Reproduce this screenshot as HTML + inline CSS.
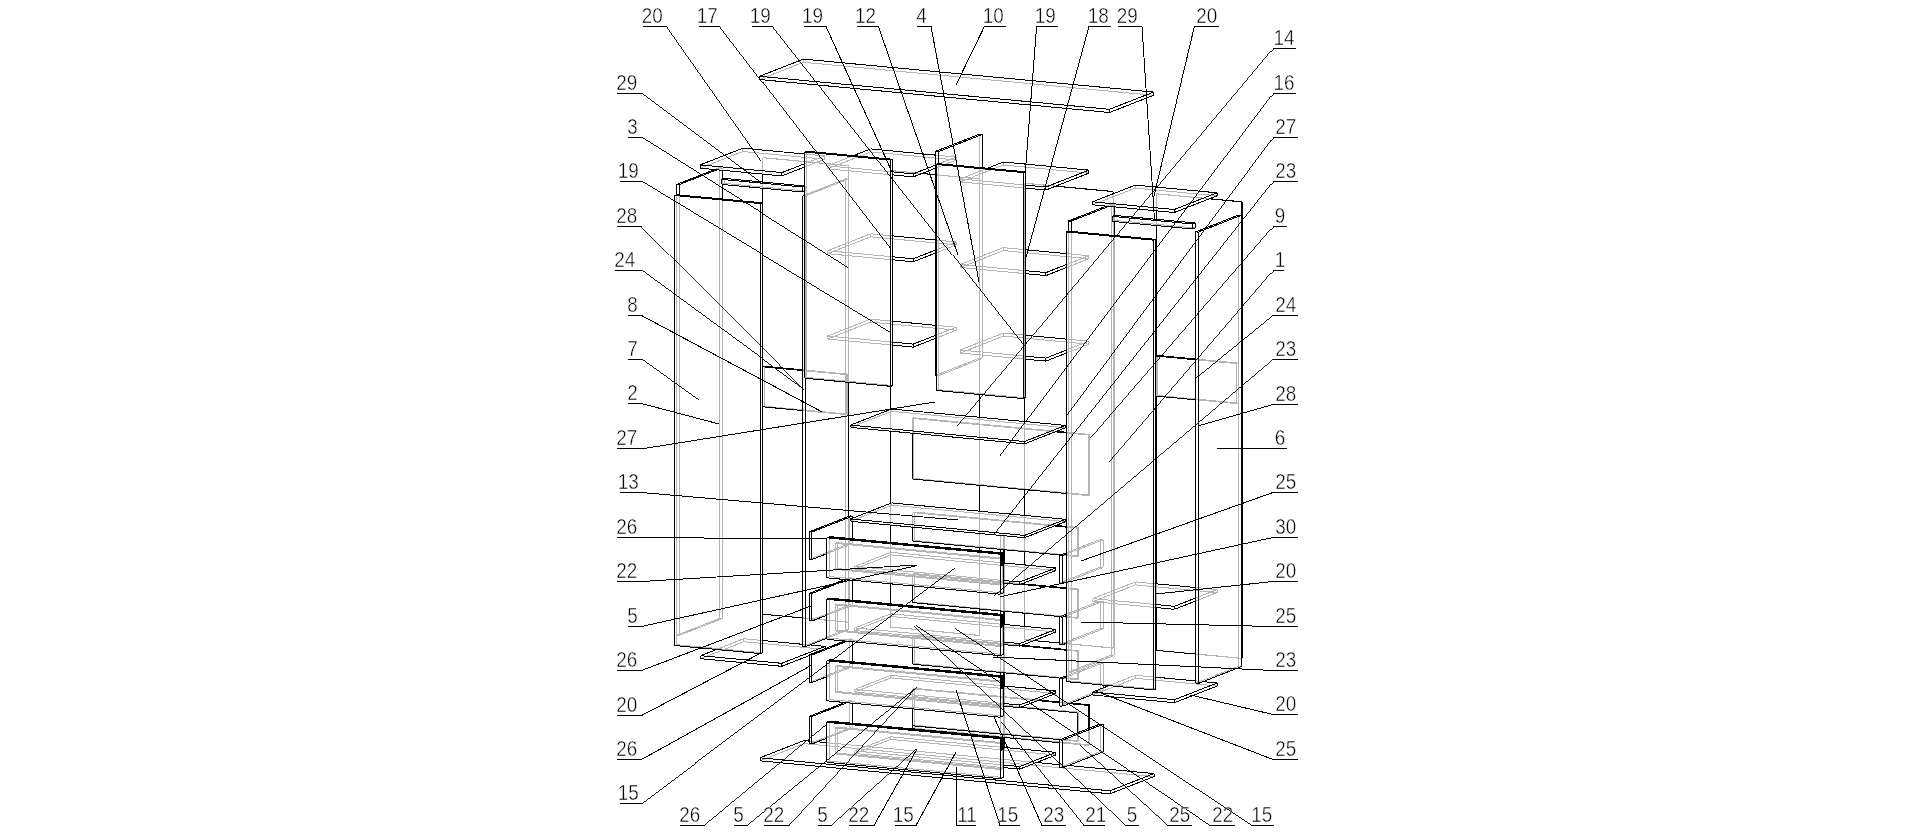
<!DOCTYPE html>
<html><head><meta charset="utf-8"><title>Exploded view</title>
<style>
html,body{margin:0;padding:0;background:#fff}
body{width:1915px;height:834px;overflow:hidden}
svg{display:block;filter:grayscale(1)}
path{shape-rendering:crispEdges;fill:none}
.g{stroke:#b4b4b4}
.d{stroke:#000}
text{font-family:"Liberation Sans",sans-serif;font-size:22.5px;fill:#000;stroke:#fff;stroke-width:0.45px}
</style></head><body>
<svg width="1915" height="834" viewBox="0 0 1915 834">
<rect width="1915" height="834" fill="#fff"/>
<path class="g" stroke-width="1" d="M803.5 62.3L1153.5 95.3M759.5 79.5L803.5 62.3M803.5 62.3L803.5 59.1M804 743.6L1154 776.6M809.6 741.1L817.5 741.8M826.7 742.7L1036.5 762.5M1059.6 764.7L1068.4 765.5M760 760.8L804 743.6M804 743.6L804 740.6M742.9 151.5L824.6 159.2M804.8 154L824.6 155.9M700.2 168.2L742.9 151.5M804.9 166.9L824.6 159.2M804.9 163.6L824.6 155.9M742.9 151.5L742.9 148.2M824.6 159.2L824.6 155.9M743.9 641.7L825 649.4M743.9 638.7L762.2 640.5M802.7 644.3L809.9 644.9M700.6 658.7L743.9 641.7M716.5 649.5L743.9 638.7M809.5 655.5L825 649.4M743.9 641.7L743.9 638.7M825 649.4L825 648.6M676.4 644.7L762.4 652.8M674.4 645.5L676.4 644.7M676.4 644.7L676.4 194.7M676.8 635.2L679.2 635.4M719.8 618.3L722.2 618.6M719.8 167.5L722.2 167.8M676.8 635.2L719.8 618.3M714.6 169.6L719.8 167.5M679.2 635.4L722.2 618.6M717 169.8L722.2 167.8M676.8 635.2L676.8 194.8M719.8 618.3L719.8 167.5M679.2 635.4L679.2 195M722.2 618.6L722.2 199M722.2 184.6L722.2 179.4M722.2 170.2L722.2 167.8M804.7 196L805.1 196M845.8 629.7L848.1 630M845.8 178.9L848.1 179.2M802.8 646.6L845.8 629.7M804.7 195.1L845.8 178.9M827 638.2L848.1 630M805.1 196L848.1 179.2M845.8 629.7L845.8 178.9M805.1 378L805.1 196M848.1 630L848.1 516.8M848.1 382.4L848.1 179.2M724.2 183.4L805.2 191M804.8 186L805.2 186M721.7 184.4L724.2 183.4M804.8 191.2L805.2 191M804.8 186.2L805.2 186M724.2 183.4L724.2 178.4M805.2 191L805.2 186M802.8 618L848.6 622.3M762.6 157.7L848.6 165.8M762.9 614.1L848.9 622.2M762.9 157.6L848.9 165.7M762.6 614.2L762.9 614.1M762.6 157.7L762.9 157.6M848.6 622.3L848.9 622.2M848.6 165.8L848.9 165.7M762.6 188.1L762.6 182.1M762.6 174.1L762.6 157.7M762.9 614.1L762.9 157.6M848.6 622.3L848.6 516.4M848.6 382.5L848.6 165.8M848.9 622.2L848.9 516.3M848.9 382.3L848.9 165.7M803 410.6L846 414.6M803 370.6L846 374.6M764.3 406.2L847.5 414.1M802.9 369.9L847.5 374.1M762.8 406.8L764.3 406.2M846 414.6L847.5 414.1M846 374.6L847.5 374.1M764.3 406.2L764.3 366.2M846 414.6L846 374.6M847.5 414.1L847.5 374.1M806.7 377.4L892.7 385.5M804.7 378.2L806.7 377.4M806.7 377.4L806.7 151.2M936.1 375.5L938.4 375.7M979.4 358.2L982.4 358.4M935.4 375.4L979.4 358.2M938.4 375.7L982.4 358.4M979.4 358.2L979.4 134.2M938.4 375.7L938.4 163.7M982.4 358.4L982.4 167.6M938 389.6L1025 397.8M936 390.4L938 389.6M938 389.6L938 163.6M827.6 168.8L892.5 174.9M827.6 165.8L892.5 171.9M870.6 151.9L956.2 160M935.5 155.1L956.2 157M827.6 168.8L870.6 151.9M827.6 165.8L853.5 155.6M935.4 168.2L956.2 160M935.4 165.2L956.2 157M827.6 168.8L827.6 165.8M870.6 151.9L870.6 148.9M956.2 160L956.2 157M827.6 253.7L892.5 259.8M827.6 250.7L892.5 256.8M870.6 236.8L956.2 244.9M870.6 233.8L892.5 235.9M935.5 240L956.2 241.9M827.6 253.7L870.6 236.8M827.6 250.7L870.6 233.8M935.4 253.1L956.2 244.9M935.4 250.1L956.2 241.9M827.6 253.7L827.6 250.7M870.6 236.8L870.6 233.8M956.2 244.9L956.2 241.9M827.6 339L892.5 345.1M827.6 336L892.5 342.1M870.6 322.1L956.2 330.2M870.6 319.1L892.5 321.2M935.5 325.3L956.2 327.2M827.6 339L870.6 322.1M827.6 336L870.6 319.1M935.4 338.4L956.2 330.2M935.4 335.4L956.2 327.2M827.6 339L827.6 336M870.6 322.1L870.6 319.1M956.2 330.2L956.2 327.2M960.3 181.9L1024.8 188M960.3 178.9L1024.8 185M1003.3 165L1088.9 173.1M960.3 181.9L1003.3 165M960.3 178.9L987.4 168.3M960.3 181.9L960.3 178.9M1003.3 165L1003.3 162M960.3 267.5L1024.8 273.6M960.3 264.5L1024.8 270.6M1003.3 250.6L1088.9 258.7M1003.3 247.6L1024.8 249.7M1066.2 253.6L1088.9 255.7M960.3 267.5L1003.3 250.6M960.3 264.5L1003.3 247.6M1066.3 267.6L1088.9 258.7M1066.3 264.6L1088.9 255.7M960.3 267.5L960.3 264.5M1003.3 250.6L1003.3 247.6M1088.9 258.7L1088.9 255.7M960.3 353L1024.8 359.1M960.3 350L1024.8 356.1M1003.3 336.1L1088.9 344.2M1003.3 333.1L1024.8 335.2M1066.2 339.1L1088.9 341.2M960.3 353L1003.3 336.1M960.3 350L1003.3 333.1M1066.3 353.1L1088.9 344.2M1066.3 350.1L1088.9 341.2M960.3 353L960.3 350M1003.3 336.1L1003.3 333.1M1088.9 344.2L1088.9 341.2M890.5 627.1L979.4 635.5M890.5 170.6L921.5 173.5M935.3 174.8L979.4 179M890.8 627L979.7 635.4M890.8 170.5L921.8 173.4M935.2 174.7L979.7 178.9M890.5 627.1L890.8 627M890.5 170.6L890.8 170.5M979.4 635.5L979.7 635.4M979.4 179L979.7 178.9M890.5 627.1L890.5 603.9M890.5 583.9L890.5 542.4M890.5 525.2L890.5 503.2M890.5 431.2L890.5 409.7M890.5 386.1L890.5 170.6M890.8 627L890.8 170.5M979.4 635.5L979.4 612.3M979.4 608.7L979.4 550.8M979.4 547.6L979.4 511.2M979.4 485.2L979.4 417.2M979.4 394.5L979.4 179M979.7 635.4L979.7 612.2M979.7 609L979.7 550.6M979.7 547.4L979.7 511.5M979.7 485.5L979.7 417.5M979.7 394.3L979.7 178.9M1024.5 639.8L1033.6 640.6M1059.4 643L1065.4 643.6M1066.2 643.7L1113 648.1M1024.5 183.3L1055.5 186.2M1024.8 639.6L1113.3 648M1024.8 183.1L1055.8 186.1M1024.5 639.8L1024.8 639.6M1024.5 183.3L1024.8 183.1M1113 648.1L1113.3 648M1024.5 639.8L1024.5 626.6M1024.5 613L1024.5 584.2M1024.5 582.6L1024.5 565M1024.5 551.8L1024.5 515.4M1024.5 489.5L1024.5 421.5M1024.5 397.9L1024.5 183.3M1024.8 639.6L1024.8 183.1M1113 648.1L1113 194M1113.3 648L1113.3 193.9M891.6 411.3L1065.6 427.7M850.6 427.4L891.6 411.3M891.6 411.3L891.6 409M1066.1 493.5L1088 495.6M912.4 418.4L1055 431.8M1066.1 432.9L1088 435M913.9 478.4L1089.5 495M913.9 417.8L1056.5 431.3M1066.4 432.2L1089.5 434.4M912.4 479L913.9 478.4M912.4 418.4L913.9 417.8M1088 495.6L1089.5 495M1088 435L1089.5 434.4M912.4 433.2L912.4 418.4M913.9 478.4L913.9 417.8M1088 495.6L1088 435M1089.5 495L1089.5 434.4M891.6 505.2L1065.6 521.6M850.6 521.3L891.6 505.2M891.6 505.2L891.6 502.9M829.8 576.6L1003.4 593M826.8 577.8L829.8 576.6M829.8 576.6L829.8 536.6M835.3 569.4L1000.3 585M835.3 543.4L1000.3 559M837.3 568.6L1002.3 584.2M837.3 542.6L1002.3 558.2M835.3 569.4L837.3 568.6M835.3 543.4L837.3 542.6M1000.3 585L1002.3 584.2M1000.3 559L1002.3 558.2M835.3 569.4L835.3 543.4M837.3 568.6L837.3 542.6M1000.3 585L1000.3 559M1002.3 584.2L1002.3 558.2M854.8 569L1003.5 583.1M854.8 566.4L1003.5 580.5M890.8 554.9L1055.8 570.5M890.8 552.3L1003.3 562.9M854.8 569L890.8 554.9M854.8 566.4L890.8 552.3M854.8 569L854.8 566.4M890.8 554.9L890.8 552.3M849.9 543.4L852.4 543.7M809.4 559.3L849.9 543.4M826.8 553.7L852.4 543.7M849.9 543.4L849.9 515.9M852.4 543.7L852.4 538.9M852.4 521.3L852.4 518.2M1100 567.1L1103 567.4M1100 539.5L1103 539.8M1059.5 583L1100 567.1M1066.2 552.8L1100 539.5M1066.2 581.8L1103 567.4M1066.2 554.2L1103 539.8M1100 567.1L1100 539.5M1103 567.4L1103 539.8M1060.4 555L1077.1 556.6M912.7 512.6L1054.4 526M1066.4 527.1L1077.1 528.1M914.2 540.5L1078.6 556M914.2 512L1055.9 525.4M1066.3 526.4L1078.6 527.5M912.7 541.1L914.2 540.5M912.7 512.6L914.2 512M1077.1 556.6L1078.6 556M1077.1 528.1L1078.6 527.5M912.7 527.2L912.7 512.6M914.2 540.5L914.2 512M1077.1 556.6L1077.1 528.1M1078.6 556L1078.6 527.5M829.8 638.1L1003.4 654.5M826.8 639.3L829.8 638.1M829.8 638.1L829.8 598.1M835.3 630.9L1000.3 646.5M835.3 604.9L1000.3 620.5M837.3 630.1L1002.3 645.7M837.3 604.1L1002.3 619.7M835.3 630.9L837.3 630.1M835.3 604.9L837.3 604.1M1000.3 646.5L1002.3 645.7M1000.3 620.5L1002.3 619.7M835.3 630.9L835.3 604.9M837.3 630.1L837.3 604.1M1000.3 646.5L1000.3 620.5M1002.3 645.7L1002.3 619.7M854.8 630.5L1003.5 644.6M854.8 627.9L1003.5 642M890.8 616.4L1055.8 632M890.8 613.8L1003.3 624.4M854.8 630.5L890.8 616.4M854.8 627.9L890.8 613.8M854.8 630.5L854.8 627.9M890.8 616.4L890.8 613.8M849.9 604.9L852.4 605.2M849.9 577.4L852.4 577.7M809.4 620.8L849.9 604.9M844.7 579.5L849.9 577.4M826.8 615.2L852.4 605.2M847.2 579.7L852.4 577.7M849.9 604.9L849.9 577.4M852.4 605.2L852.4 600.4M852.4 580.1L852.4 577.7M1100 628.6L1103 628.9M1100 601L1103 601.3M1059.5 644.5L1100 628.6M1066.2 614.3L1100 601M1066.2 643.3L1103 628.9M1066.2 615.7L1103 601.3M1100 628.6L1100 601M1103 628.9L1103 601.3M1060.4 616.6L1077.1 618.2M912.7 574.1L1020.6 584.3M1066.4 588.6L1077.1 589.7M914.2 602.1L1078.6 617.6M914.2 573.6L1022.1 583.7M1066.3 587.9L1078.6 589.1M912.7 602.6L914.2 602.1M912.7 574.1L914.2 573.6M1077.1 618.2L1078.6 617.6M1077.1 589.7L1078.6 589.1M912.7 586L912.7 574.1M914.2 602.1L914.2 573.6M1077.1 618.2L1077.1 589.7M1078.6 617.6L1078.6 589.1M829.8 699.6L1003.4 716M826.8 700.8L829.8 699.6M829.8 699.6L829.8 659.6M835.3 692.4L1000.3 708M835.3 666.4L1000.3 682M837.3 691.6L1002.3 707.2M837.3 665.6L1002.3 681.2M835.3 692.4L837.3 691.6M835.3 666.4L837.3 665.6M1000.3 708L1002.3 707.2M1000.3 682L1002.3 681.2M835.3 692.4L835.3 666.4M837.3 691.6L837.3 665.6M1000.3 708L1000.3 682M1002.3 707.2L1002.3 681.2M854.8 692L1003.5 706.1M854.8 689.4L1003.5 703.5M890.8 677.9L1055.8 693.5M890.8 675.3L1003.3 685.9M854.8 692L890.8 677.9M854.8 689.4L890.8 675.3M854.8 692L854.8 689.4M890.8 677.9L890.8 675.3M849.9 666.4L852.4 666.7M849.9 638.9L852.4 639.2M809.4 682.3L849.9 666.4M844.7 641L849.9 638.9M826.8 676.7L852.4 666.7M847.2 641.2L852.4 639.2M849.9 666.4L849.9 638.9M852.4 666.7L852.4 661.9M852.4 641.6L852.4 639.2M1100 690.1L1103 690.4M1100 662.5L1103 662.8M1059.5 706L1100 690.1M1066.2 675.8L1100 662.5M1093 694.3L1103 690.4M1066.2 677.2L1103 662.8M1100 690.1L1100 662.5M1103 690.4L1103 688M1103 685.2L1103 662.8M1060.4 678.1L1077.1 679.7M912.7 635.7L1020.2 645.8M1066.4 650.2L1077.1 651.2M914.2 663.6L1078.6 679.1M914.2 635.1L1021.7 645.2M1066.3 649.5L1078.6 650.6M912.7 664.2L914.2 663.6M912.7 635.7L914.2 635.1M1077.1 679.7L1078.6 679.1M1077.1 651.2L1078.6 650.6M912.7 647.2L912.7 635.7M914.2 663.6L914.2 635.1M1077.1 679.7L1077.1 651.2M1078.6 679.1L1078.6 650.6M829.8 761.1L1003.4 777.5M826.8 762.3L829.8 761.1M829.8 761.1L829.8 721.1M835.3 753.9L1000.3 769.5M835.3 727.9L1000.3 743.5M837.3 753.1L1002.3 768.7M837.3 727.1L1002.3 742.7M835.3 753.9L837.3 753.1M835.3 727.9L837.3 727.1M1000.3 769.5L1002.3 768.7M1000.3 743.5L1002.3 742.7M835.3 753.9L835.3 727.9M837.3 753.1L837.3 727.1M1000.3 769.5L1000.3 743.5M1002.3 768.7L1002.3 742.7M854.8 753.5L1003.5 767.6M854.8 750.9L1003.5 765M890.8 739.4L1055.8 755M890.8 736.8L1003.3 747.4M854.8 753.5L890.8 739.4M854.8 750.9L890.8 736.8M854.8 753.5L854.8 750.9M890.8 739.4L890.8 736.8M849.9 727.9L852.4 728.2M849.9 700.4L852.4 700.7M809.4 743.8L849.9 727.9M844.7 702.5L849.9 700.4M826.8 738.2L852.4 728.2M847.2 702.7L852.4 700.7M849.9 727.9L849.9 700.4M852.4 728.2L852.4 723.4M852.4 703.1L852.4 700.7M1100 751.6L1103 751.9M1059.5 767.5L1100 751.6M1100 751.6L1100 724M1060.4 739.7L1077.1 741.3M912.7 697.2L1020.2 707.4M914.2 725.2L1078.6 740.7M914.2 696.7L1078.6 712.2M912.7 725.8L914.2 725.2M912.7 697.2L914.2 696.7M1077.1 741.3L1078.6 740.7M1077.1 712.8L1078.6 712.2M912.7 708.7L912.7 697.2M914.2 725.2L914.2 696.7M1077.1 741.3L1077.1 732.9M1078.6 740.7L1078.6 712.2M1059.6 742.7L1088.3 745.4M912.7 688.8L1037.7 700.6M1059.6 702.7L1069.2 703.6M914.2 728.3L1089.8 744.8M914.2 688.3L1039.2 700M1059.5 702L1070.7 703M912.7 728.8L914.2 728.3M912.7 688.8L914.2 688.3M1088.3 745.4L1089.8 744.8M912.7 708.8L912.7 688.8M914.2 728.3L914.2 688.3M1088.3 745.4L1088.3 728.6M1089.8 744.8L1089.8 728M1092.8 601.6L1155.5 607.5M1092.8 598.6L1155.5 604.5M1135.5 584.9L1217.2 592.6M1135.5 581.9L1155.7 583.8M1195.8 587.5L1217.2 589.6M1092.8 601.6L1135.5 584.9M1092.8 598.6L1135.5 581.9M1195.7 601L1217.2 592.6M1195.7 598L1217.2 589.6M1092.8 601.6L1092.8 598.6M1135.5 584.9L1135.5 581.9M1217.2 592.6L1217.2 589.6M1000.3 750.7L1003.6 751M1000.3 535.7L1003.6 536M1000.8 750.5L1004.1 750.8M1000.8 535.5L1004.1 535.8M1000.3 750.7L1000.8 750.5M1000.3 535.7L1000.8 535.5M1003.6 751L1004.1 750.8M1003.6 536L1004.1 535.8M1000.3 750.7L1000.3 675.6M1000.3 672.4L1000.3 614.4M1000.3 610.8L1000.3 552.9M1000.3 549.3L1000.3 535.7M1000.8 750.5L1000.8 535.5M1003.6 751L1003.6 747.4M1003.6 737.4L1003.6 685.9M1003.6 672.7L1003.6 624.3M1003.6 611.1L1003.6 563.2M1003.6 549.6L1003.6 536M1004.1 750.8L1004.1 747.6M1004.1 737.6L1004.1 686.1M1004.1 672.9L1004.1 624.5M1004.1 611.3L1004.1 563M1004.1 549.8L1004.1 535.8M1135.3 188.1L1217 195.8M1092.6 204.8L1135.3 188.1M1135.3 188.1L1135.3 185.1M1135.5 678.3L1217.2 686M1135.5 675.3L1155.7 677.2M1195.8 680.9L1202.9 681.6M1092.8 695L1135.5 678.3M1109.1 685.6L1135.5 675.3M1135.5 678.3L1135.5 675.3M1068.4 672L1071 672.2M1111.4 655.1L1114 655.4M1111.4 204.1L1114 204.4M1068.4 672L1111.4 655.1M1106.6 206L1111.4 204.1M1071 672.2L1114 655.4M1109.2 206.3L1114 204.4M1068.4 672L1068.4 231M1111.4 655.1L1111.4 204.1M1071 672.2L1071 231.2M1114 655.4L1114 235.6M1114 221.6L1114 215.6M1114 206.8L1114 204.4M1068.2 680.8L1155.7 689.1M1066.2 681.6L1068.2 680.8M1068.2 680.8L1068.2 231.1M1238.6 666.3L1241.3 666.6M1195.6 683.2L1238.6 666.3M1238.6 666.3L1238.6 215M1114.9 220.4L1195.3 228M1112.4 221.4L1114.9 220.4M1114.9 220.4L1114.9 215.4M1195.8 654.1L1241.4 658.4M1156.5 193.9L1208.9 198.8M1156.8 650.3L1242.1 658.3M1156.8 193.8L1209.2 198.7M1156.5 650.4L1156.8 650.3M1156.5 193.9L1156.8 193.8M1156.5 607.6L1156.5 584M1156.5 396.2L1156.5 355.8M1156.5 225.5L1156.5 219.5M1156.5 210.7L1156.5 193.9M1156.8 650.3L1156.8 193.8M1195.6 399.8L1236.5 403.6M1195.6 359.8L1236.5 363.6M1157 395.4L1238 403.1M1195.5 359L1238 363.1M1155.5 396L1157 395.4M1155.5 356L1155.8 355.9M1236.5 403.6L1238 403.1M1236.5 363.6L1238 363.1M1155.5 396L1155.5 356M1157 395.4L1157 355.4M1236.5 403.6L1236.5 363.6M1238 403.1L1238 363.1"/>
<path class="d" stroke-width="0.8" d="M641.5 226.5L804.6 390.2"/>
<path class="d" stroke-width="0.85" d="M704 825.5L827 724M789 825.5L917 687M831 825.5L917 748.6M1126 825.5L913.6 626M1168 825.5L1079.8 745M1273 48.5L957.5 425.5M1273 226.5L1090.9 437.6M1273 270.5L1109.5 461.5M1273 359.5L993.6 596.3"/>
<path class="d" stroke-width="0.9" d="M667 26.5L761.6 161M720 26.5L891 249M773 26.5L1023 344M641.5 93.5L761 183.3M641.5 270.5L804.2 389.6M641.5 359.5L699.4 401M641.5 803.5L955 568M747 825.5L917 687M1084 825.5L1001.5 722M1273 93.5L999.5 456.3M1273 137.5L1067.4 414.6M1273 181.5L993.5 535M1273 315.5L1195 379"/>
<path class="d" stroke-width="0.95" d="M641.5 137.5L848.3 267.8M641.5 181.5L891.4 333M1210 825.5L916 625.4M1252 825.5L955 628.4"/>
<path class="d" stroke-width="1" d="M759.5 79.5L1109.5 112.5M759.5 76.3L1109.5 109.3M803.5 59.1L1153.5 92.1M759.5 76.3L803.5 59.1M1109.5 112.5L1153.5 95.3M1109.5 109.3L1153.5 92.1M759.5 79.5L759.5 76.3M1109.5 112.5L1109.5 109.3M1153.5 95.3L1153.5 92.1M760 760.8L1110 793.8M760 757.8L1110 790.8M804 740.6L809.6 741.1M817.5 741.8L826.7 742.7M1036.5 762.5L1059.6 764.7M1068.4 765.5L1154 773.6M760 757.8L804 740.6M1110 793.8L1154 776.6M1110 790.8L1154 773.6M760 760.8L760 757.8M1110 793.8L1110 790.8M1154 776.6L1154 773.6M700.2 168.2L781.9 175.9M700.2 164.9L781.9 172.6M742.9 148.2L804.8 154M700.2 164.9L742.9 148.2M781.9 175.9L804.9 166.9M781.9 172.6L804.9 163.6M700.2 168.2L700.2 164.9M781.9 175.9L781.9 172.6M700.6 658.7L781.7 666.3M700.6 655.7L781.7 663.3M762.2 640.5L802.7 644.3M809.9 644.9L825 646.4M700.6 655.7L716.5 649.5M781.7 666.3L809.5 655.5M781.7 663.3L825 646.4M700.6 658.7L700.6 655.7M781.7 666.3L781.7 663.3M825 648.6L825 646.4M674.4 645.5L760.4 653.6M674.4 195.5L760.4 203.6M676.4 194.7L762.4 202.8M674.4 195.5L676.4 194.7M760.4 653.6L762.4 652.8M760.4 203.6L762.4 202.8M674.4 645.5L674.4 195.5M760.4 653.6L760.4 203.6M762.4 652.8L762.4 202.8M676.8 184.4L679.2 184.6M676.8 184.4L714.6 169.6M679.2 184.6L717 169.8M676.8 194.8L676.8 184.4M679.2 195L679.2 184.6M722.2 199L722.2 184.6M722.2 179.4L722.2 170.2M802.8 646.6L805.1 646.8M802.8 195.8L804.7 196M802.8 195.8L804.7 195.1M805.1 646.8L827 638.2M802.8 646.6L802.8 195.8M805.1 646.8L805.1 378M848.1 516.8L848.1 382.4M721.7 184.4L802.7 192M721.7 179.4L802.7 187M724.2 178.4L804.8 186M721.7 179.4L724.2 178.4M802.7 192L804.8 191.2M802.7 187L804.8 186.2M721.7 184.4L721.7 179.4M802.7 192L802.7 187M762.6 614.2L802.8 618M762.6 614.2L762.6 188.1M762.6 182.1L762.6 174.1M848.6 516.4L848.6 382.5M848.9 516.3L848.9 382.3M762.8 406.8L803 410.6M762.8 366.8L803 370.6M764.3 366.2L802.9 369.9M762.8 366.8L764.3 366.2M762.8 406.8L762.8 366.8M804.7 378.2L890.7 386.3M804.7 152L890.7 160.1M806.7 151.2L892.7 159.3M804.7 152L806.7 151.2M890.7 386.3L892.7 385.5M890.7 160.1L892.7 159.3M804.7 378.2L804.7 152M890.7 386.3L890.7 160.1M892.7 385.5L892.7 159.3M935.4 375.4L936.1 375.5M935.4 151.4L938.4 151.7M979.4 134.2L982.4 134.4M935.4 151.4L979.4 134.2M938.4 151.7L982.4 134.4M935.4 375.4L935.4 151.4M938.4 163.7L938.4 151.7M982.4 167.6L982.4 134.4M936 390.4L1023 398.6M936 164.4L1023 172.6M938 163.6L1025 171.8M936 164.4L938 163.6M1023 398.6L1025 397.8M1023 172.6L1025 171.8M936 390.4L936 164.4M1023 398.6L1023 172.6M1025 397.8L1025 171.8M892.5 174.9L913.2 176.9M892.5 171.9L913.2 173.9M870.6 148.9L935.5 155.1M853.5 155.6L870.6 148.9M913.2 176.9L935.4 168.2M913.2 173.9L935.4 165.2M913.2 176.9L913.2 173.9M892.5 259.8L913.2 261.8M892.5 256.8L913.2 258.8M892.5 235.9L935.5 240M913.2 261.8L935.4 253.1M913.2 258.8L935.4 250.1M913.2 261.8L913.2 258.8M892.5 345.1L913.2 347.1M892.5 342.1L913.2 344.1M892.5 321.2L935.5 325.3M913.2 347.1L935.4 338.4M913.2 344.1L935.4 335.4M913.2 347.1L913.2 344.1M1024.8 188L1045.9 190M1024.8 185L1045.9 187M1003.3 162L1088.9 170.1M987.4 168.3L1003.3 162M1045.9 190L1088.9 173.1M1045.9 187L1088.9 170.1M1045.9 190L1045.9 187M1088.9 173.1L1088.9 170.1M1024.8 273.6L1045.9 275.6M1024.8 270.6L1045.9 272.6M1024.8 249.7L1066.2 253.6M1045.9 275.6L1066.3 267.6M1045.9 272.6L1066.3 264.6M1045.9 275.6L1045.9 272.6M1024.8 359.1L1045.9 361.1M1024.8 356.1L1045.9 358.1M1024.8 335.2L1066.2 339.1M1045.9 361.1L1066.3 353.1M1045.9 358.1L1066.3 350.1M1045.9 361.1L1045.9 358.1M921.5 173.5L935.3 174.8M921.8 173.4L935.2 174.7M890.5 603.9L890.5 583.9M890.5 542.4L890.5 525.2M890.5 503.2L890.5 431.2M890.5 409.7L890.5 386.1M979.4 612.3L979.4 608.7M979.4 550.8L979.4 547.6M979.4 511.2L979.4 485.2M979.4 417.2L979.4 394.5M979.7 612.2L979.7 609M979.7 550.6L979.7 547.4M979.7 511.5L979.7 485.5M979.7 417.5L979.7 394.3M1033.6 640.6L1059.4 643M1065.4 643.6L1066.2 643.7M1055.5 186.2L1113 191.6M1055.8 186.1L1113.3 191.5M1113 191.6L1113.3 191.5M1024.5 626.6L1024.5 613M1024.5 584.2L1024.5 582.6M1024.5 565L1024.5 551.8M1024.5 515.4L1024.5 489.5M1024.5 421.5L1024.5 397.9M1113 194L1113 191.6M1113.3 193.9L1113.3 191.5M850.6 427.4L1024.6 443.8M850.6 425.1L1024.6 441.5M891.6 409L1065.6 425.4M850.6 425.1L891.6 409M1024.6 443.8L1065.6 427.7M1024.6 441.5L1065.6 425.4M850.6 427.4L850.6 425.1M1024.6 443.8L1024.6 441.5M1065.6 427.7L1065.6 425.4M912.4 479L1066.1 493.5M1055 431.8L1066.1 432.9M1056.5 431.3L1066.4 432.2M912.4 479L912.4 433.2M850.6 521.3L1024.6 537.7M850.6 519L1024.6 535.4M891.6 502.9L1065.6 519.3M850.6 519L891.6 502.9M1024.6 537.7L1065.6 521.6M1024.6 535.4L1065.6 519.3M850.6 521.3L850.6 519M1024.6 537.7L1024.6 535.4M1065.6 521.6L1065.6 519.3M826.8 577.8L1000.4 594.2M826.8 537.8L1000.4 554.2M829.8 536.6L1003.4 553M826.8 537.8L829.8 536.6M1000.4 594.2L1003.4 593M1000.4 554.2L1003.4 553M826.8 577.8L826.8 537.8M1000.4 594.2L1000.4 554.2M1003.4 593L1003.4 553M1003.5 583.1L1019.8 584.6M1003.5 580.5L1019.8 582M1003.3 562.9L1055.8 567.9M1019.8 584.6L1055.8 570.5M1019.8 582L1055.8 567.9M1019.8 584.6L1019.8 582M1055.8 570.5L1055.8 567.9M809.4 559.3L811.9 559.5M809.4 531.8L811.9 532M849.9 515.9L852.4 516.2M809.4 531.8L849.9 515.9M811.9 559.5L826.8 553.7M811.9 532L852.4 516.2M809.4 559.3L809.4 531.8M811.9 559.5L811.9 532M852.4 538.9L852.4 521.3M852.4 518.2L852.4 516.2M1059.5 583L1062.5 583.3M1059.5 555.4L1062.5 555.7M1059.5 555.4L1066.2 552.8M1062.5 583.3L1066.2 581.8M1062.5 555.7L1066.2 554.2M1059.5 583L1059.5 555.4M1062.5 583.3L1062.5 555.7M912.7 541.1L1060.4 555M1054.4 526L1066.4 527.1M1055.9 525.4L1066.3 526.4M912.7 541.1L912.7 527.2M826.8 639.3L1000.4 655.7M826.8 599.3L1000.4 615.7M829.8 598.1L1003.4 614.5M826.8 599.3L829.8 598.1M1000.4 655.7L1003.4 654.5M1000.4 615.7L1003.4 614.5M826.8 639.3L826.8 599.3M1000.4 655.7L1000.4 615.7M1003.4 654.5L1003.4 614.5M1003.5 644.6L1019.8 646.1M1003.5 642L1019.8 643.5M1003.3 624.4L1055.8 629.4M1019.8 646.1L1055.8 632M1019.8 643.5L1055.8 629.4M1019.8 646.1L1019.8 643.5M1055.8 632L1055.8 629.4M809.4 620.8L811.9 621M809.4 593.3L811.9 593.5M809.4 593.3L844.7 579.5M811.9 621L826.8 615.2M811.9 593.5L847.2 579.7M809.4 620.8L809.4 593.3M811.9 621L811.9 593.5M852.4 600.4L852.4 580.1M1059.5 644.5L1062.5 644.8M1059.5 616.9L1062.5 617.2M1059.5 616.9L1066.2 614.3M1062.5 644.8L1066.2 643.3M1062.5 617.2L1066.2 615.7M1059.5 644.5L1059.5 616.9M1062.5 644.8L1062.5 617.2M912.7 602.6L1060.4 616.6M1020.6 584.3L1066.4 588.6M1022.1 583.7L1066.3 587.9M912.7 602.6L912.7 586M826.8 700.8L1000.4 717.2M826.8 660.8L1000.4 677.2M829.8 659.6L1003.4 676M826.8 660.8L829.8 659.6M1000.4 717.2L1003.4 716M1000.4 677.2L1003.4 676M826.8 700.8L826.8 660.8M1000.4 717.2L1000.4 677.2M1003.4 716L1003.4 676M1003.5 706.1L1019.8 707.6M1003.5 703.5L1019.8 705M1003.3 685.9L1055.8 690.9M1019.8 707.6L1055.8 693.5M1019.8 705L1055.8 690.9M1019.8 707.6L1019.8 705M1055.8 693.5L1055.8 690.9M809.4 682.3L811.9 682.5M809.4 654.8L811.9 655M809.4 654.8L844.7 641M811.9 682.5L826.8 676.7M811.9 655L847.2 641.2M809.4 682.3L809.4 654.8M811.9 682.5L811.9 655M852.4 661.9L852.4 641.6M1059.5 706L1062.5 706.3M1059.5 678.4L1062.5 678.7M1059.5 678.4L1066.2 675.8M1062.5 706.3L1093 694.3M1062.5 678.7L1066.2 677.2M1059.5 706L1059.5 678.4M1062.5 706.3L1062.5 678.7M1103 688L1103 685.2M912.7 664.2L1060.4 678.1M1020.2 645.8L1066.4 650.2M1021.7 645.2L1066.3 649.5M912.7 664.2L912.7 647.2M826.8 762.3L1000.4 778.7M826.8 722.3L1000.4 738.7M829.8 721.1L1003.4 737.5M826.8 722.3L829.8 721.1M1000.4 778.7L1003.4 777.5M1000.4 738.7L1003.4 737.5M826.8 762.3L826.8 722.3M1000.4 778.7L1000.4 738.7M1003.4 777.5L1003.4 737.5M1003.5 767.6L1019.8 769.1M1003.5 765L1019.8 766.5M1003.3 747.4L1055.8 752.4M1019.8 769.1L1055.8 755M1019.8 766.5L1055.8 752.4M1019.8 769.1L1019.8 766.5M1055.8 755L1055.8 752.4M809.4 743.8L811.9 744M809.4 716.3L811.9 716.5M809.4 716.3L844.7 702.5M811.9 744L826.8 738.2M811.9 716.5L847.2 702.7M809.4 743.8L809.4 716.3M811.9 744L811.9 716.5M852.4 723.4L852.4 703.1M1059.5 767.5L1062.5 767.8M1059.5 739.9L1062.5 740.2M1100 724L1103 724.3M1059.5 739.9L1100 724M1062.5 767.8L1103 751.9M1062.5 740.2L1103 724.3M1059.5 767.5L1059.5 739.9M1062.5 767.8L1062.5 740.2M1103 751.9L1103 724.3M912.7 725.8L1060.4 739.7M1020.2 707.4L1077.1 712.8M912.7 725.8L912.7 708.7M1077.1 732.9L1077.1 712.8M912.7 728.8L1059.6 742.7M1037.7 700.6L1059.6 702.7M1069.2 703.6L1088.3 705.4M1039.2 700L1059.5 702M1070.7 703L1089.8 704.8M1088.3 705.4L1089.8 704.8M912.7 728.8L912.7 708.8M1088.3 728.6L1088.3 705.4M1089.8 728L1089.8 704.8M1155.5 607.5L1174.5 609.3M1155.5 604.5L1174.5 606.3M1155.7 583.8L1195.8 587.5M1174.5 609.3L1195.7 601M1174.5 606.3L1195.7 598M1174.5 609.3L1174.5 606.3M1000.3 675.6L1000.3 672.4M1000.3 614.4L1000.3 610.8M1000.3 552.9L1000.3 549.3M1003.6 747.4L1003.6 737.4M1003.6 685.9L1003.6 672.7M1003.6 624.3L1003.6 611.1M1003.6 563.2L1003.6 549.6M1004.1 747.6L1004.1 737.6M1004.1 686.1L1004.1 672.9M1004.1 624.5L1004.1 611.3M1004.1 563L1004.1 549.8M1092.6 204.8L1174.3 212.5M1092.6 201.8L1174.3 209.5M1135.3 185.1L1217 192.8M1092.6 201.8L1135.3 185.1M1174.3 212.5L1217 195.8M1174.3 209.5L1217 192.8M1092.6 204.8L1092.6 201.8M1174.3 212.5L1174.3 209.5M1217 195.8L1217 192.8M1092.8 695L1174.5 702.7M1092.8 692L1174.5 699.7M1155.7 677.2L1195.8 680.9M1202.9 681.6L1217.2 683M1092.8 692L1109.1 685.6M1174.5 702.7L1217.2 686M1174.5 699.7L1217.2 683M1092.8 695L1092.8 692M1174.5 702.7L1174.5 699.7M1217.2 686L1217.2 683M1068.4 221L1071 221.2M1068.4 221L1106.6 206M1071 221.2L1109.2 206.3M1068.4 231L1068.4 221M1071 231.2L1071 221.2M1114 235.6L1114 221.6M1114 215.6L1114 206.8M1066.2 681.6L1153.7 689.9M1066.2 231.9L1153.7 240.2M1068.2 231.1L1155.7 239.4M1066.2 231.9L1068.2 231.1M1153.7 689.9L1155.7 689.1M1153.7 240.2L1155.7 239.4M1066.2 681.6L1066.2 231.9M1153.7 689.9L1153.7 240.2M1155.7 689.1L1155.7 239.4M1195.6 683.2L1198.3 683.5M1195.6 231.9L1198.3 232.2M1238.6 215L1241.3 215.3M1195.6 231.9L1238.6 215M1198.3 683.5L1241.3 666.6M1198.3 232.2L1241.3 215.3M1195.6 683.2L1195.6 231.9M1198.3 683.5L1198.3 232.2M1241.3 666.6L1241.3 215.3M1112.4 221.4L1192.8 229M1112.4 216.4L1192.8 224M1114.9 215.4L1195.3 223M1112.4 216.4L1114.9 215.4M1192.8 229L1195.3 228M1192.8 224L1195.3 223M1112.4 221.4L1112.4 216.4M1192.8 229L1192.8 224M1195.3 228L1195.3 223M1156.5 650.4L1195.8 654.1M1241.4 658.4L1241.8 658.4M1208.9 198.8L1241.8 201.9M1209.2 198.7L1242.1 201.8M1241.8 658.4L1242.1 658.3M1241.8 201.9L1242.1 201.8M1156.5 650.4L1156.5 607.6M1156.5 584L1156.5 396.2M1156.5 355.8L1156.5 225.5M1156.5 219.5L1156.5 210.7M1241.8 658.4L1241.8 201.9M1242.1 658.3L1242.1 201.8M1155.5 396L1195.6 399.8M1155.5 356L1195.6 359.8M1157 355.4L1195.5 359M1155.8 355.9L1157 355.4M828.3 537.2L1001.9 553.6M1001.9 553.6L1001.9 566.2M1001.1 553.9L1001.1 566.2M1002.6 553.4L1002.6 565.7M828.3 598.7L1001.9 615.1M1001.9 615.1L1001.9 627.7M1001.1 615.4L1001.1 627.7M1002.6 614.9L1002.6 627.2M828.3 660.2L1001.9 676.6M1001.9 676.6L1001.9 689.2M1001.1 676.9L1001.1 689.2M1002.6 676.4L1002.6 688.7M828.3 721.7L1001.9 738.1M1001.9 738.1L1001.9 750.7M1001.1 738.4L1001.1 750.7M1002.6 737.9L1002.6 750.2M642.6 26.5L667 26.5M699 26.5L720 26.5M752 26.5L773 26.5M804.4 26.5L826 26.5M826 26.5L892 172M857.4 26.5L878.4 26.5M878.4 26.5L958 255M917 26.5L931 26.5M931 26.5L979 282M984.4 26.5L1005.6 26.5M984.4 26.5L956 85M1036.6 26.5L1057.6 26.5M1036.6 26.5L1025 176M1089 26.5L1110.6 26.5M1089 26.5L1025 261M1117.6 26.5L1142 26.5M1142 26.5L1154.5 220M1194.4 26.5L1219 26.5M1194.4 26.5L1153.5 198M617 93.5L641.5 93.5M628 137.5L641.5 137.5M620 181.5L641.5 181.5M617 226.5L641.5 226.5M615 270.5L641.5 270.5M628 315.5L641.5 315.5M641.5 315.5L822 411.9M628 359.5L641.5 359.5M628 403.5L641.5 403.5M641.5 403.5L719 424M617 448.5L644 448.5M644 448.5L935 402M620 492.5L641.5 492.5M641.5 492.5L958 520M617 537.5L641.5 537.5M641.5 537.5L827 539M617 581.5L641.5 581.5M641.5 581.5L917 565M628 626.5L641.5 626.5M641.5 626.5L917 565.6M617 670.5L641.5 670.5M641.5 670.5L811 606M617 715.5L641.5 715.5M641.5 715.5L761 653M617 759.5L641.5 759.5M641.5 759.5L812 665M620 803.5L641.5 803.5M680 825.5L704 825.5M734 825.5L747 825.5M764 825.5L789 825.5M818 825.5L831 825.5M849 825.5L874 825.5M874 825.5L917 749M895 825.5L916 825.5M916 825.5L956 752M957 825.5L975.6 825.5M957 825.5L956 766M1000 825.5L1020 825.5M1000 825.5L956 690M1042 825.5L1066 825.5M1042 825.5L994 717M1084 825.5L1105 825.5M1126 825.5L1139 825.5M1168 825.5L1192 825.5M1210 825.5L1235 825.5M1252 825.5L1274 825.5M1273 48.5L1296.4 48.5M1273 93.5L1296.4 93.5M1273 137.5L1298 137.5M1273 181.5L1298 181.5M1273 226.5L1287 226.5M1273 270.5L1284 270.5M1273 315.5L1298 315.5M1273 359.5L1298 359.5M1273 404.5L1298 404.5M1273 404.5L1198 426M1217.2 448.5L1287 448.5M1273 492.5L1298 492.5M1273 492.5L1081 561M1273 537.5L1298 537.5M1273 537.5L1000 596.8M1273 581.5L1298 581.5M1273 581.5L1156 594M1273 626.5L1298 626.5M1273 626.5L1080 622M1273 670.5L1298 670.5M1273 670.5L993 657M1273 714.5L1298 714.5M1273 714.5L1190.5 695M1273 759.5L1298 759.5M1273 759.5L1095 690.7"/>
<g><text transform="translate(641.8 23.1) scale(0.84 1)">20</text><text transform="translate(696.7 23.1) scale(0.84 1)">17</text><text transform="translate(749.7 23.1) scale(0.84 1)">19</text><text transform="translate(802.1 23.1) scale(0.84 1)">19</text><text transform="translate(855.1 23.1) scale(0.84 1)">12</text><text transform="translate(916.2 23.1) scale(0.84 1)">4</text><text transform="translate(1003.8 23.1) scale(0.84 1)" text-anchor="end">10</text><text transform="translate(1055.8 23.1) scale(0.84 1)" text-anchor="end">19</text><text transform="translate(1108.8 23.1) scale(0.84 1)" text-anchor="end">18</text><text transform="translate(1116.8 23.1) scale(0.84 1)">29</text><text transform="translate(1217.2 23.1) scale(0.84 1)" text-anchor="end">20</text><text transform="translate(616.2 90.1) scale(0.84 1)">29</text><text transform="translate(627.2 134.1) scale(0.84 1)">3</text><text transform="translate(617.7 178.1) scale(0.84 1)">19</text><text transform="translate(616.2 223.1) scale(0.84 1)">28</text><text transform="translate(614.2 267.1) scale(0.84 1)">24</text><text transform="translate(627.2 312.1) scale(0.84 1)">8</text><text transform="translate(627.2 356.1) scale(0.84 1)">7</text><text transform="translate(627.2 400.1) scale(0.84 1)">2</text><text transform="translate(616.2 445.1) scale(0.84 1)">27</text><text transform="translate(617.7 489.1) scale(0.84 1)">13</text><text transform="translate(616.2 534.1) scale(0.84 1)">26</text><text transform="translate(616.2 578.1) scale(0.84 1)">22</text><text transform="translate(627.2 623.1) scale(0.84 1)">5</text><text transform="translate(616.2 667.1) scale(0.84 1)">26</text><text transform="translate(616.2 712.1) scale(0.84 1)">20</text><text transform="translate(616.2 756.1) scale(0.84 1)">26</text><text transform="translate(617.7 800.1) scale(0.84 1)">15</text><text transform="translate(679.2 822.1) scale(0.84 1)">26</text><text transform="translate(733.2 822.1) scale(0.84 1)">5</text><text transform="translate(763.2 822.1) scale(0.84 1)">22</text><text transform="translate(817.2 822.1) scale(0.84 1)">5</text><text transform="translate(848.2 822.1) scale(0.84 1)">22</text><text transform="translate(892.7 822.1) scale(0.84 1)">15</text><text transform="translate(976.8 822.1) scale(0.84 1)" text-anchor="end">11</text><text transform="translate(1018.2 822.1) scale(0.84 1)" text-anchor="end">15</text><text transform="translate(1064.2 822.1) scale(0.84 1)" text-anchor="end">23</text><text transform="translate(1106.2 822.1) scale(0.84 1)" text-anchor="end">21</text><text transform="translate(1137.2 822.1) scale(0.84 1)" text-anchor="end">5</text><text transform="translate(1190.2 822.1) scale(0.84 1)" text-anchor="end">25</text><text transform="translate(1233.2 822.1) scale(0.84 1)" text-anchor="end">22</text><text transform="translate(1272.2 822.1) scale(0.84 1)" text-anchor="end">15</text><text transform="translate(1294.6 45.1) scale(0.84 1)" text-anchor="end">14</text><text transform="translate(1294.6 90.1) scale(0.84 1)" text-anchor="end">16</text><text transform="translate(1296.2 134.1) scale(0.84 1)" text-anchor="end">27</text><text transform="translate(1296.2 178.1) scale(0.84 1)" text-anchor="end">23</text><text transform="translate(1285.2 223.1) scale(0.84 1)" text-anchor="end">9</text><text transform="translate(1285.2 267.1) scale(0.84 1)" text-anchor="end">1</text><text transform="translate(1296.2 312.1) scale(0.84 1)" text-anchor="end">24</text><text transform="translate(1296.2 356.1) scale(0.84 1)" text-anchor="end">23</text><text transform="translate(1296.2 401.1) scale(0.84 1)" text-anchor="end">28</text><text transform="translate(1285.2 445.1) scale(0.84 1)" text-anchor="end">6</text><text transform="translate(1296.2 489.1) scale(0.84 1)" text-anchor="end">25</text><text transform="translate(1296.2 534.1) scale(0.84 1)" text-anchor="end">30</text><text transform="translate(1296.2 578.1) scale(0.84 1)" text-anchor="end">20</text><text transform="translate(1296.2 623.1) scale(0.84 1)" text-anchor="end">25</text><text transform="translate(1296.2 667.1) scale(0.84 1)" text-anchor="end">23</text><text transform="translate(1296.2 711.1) scale(0.84 1)" text-anchor="end">20</text><text transform="translate(1296.2 756.1) scale(0.84 1)" text-anchor="end">25</text></g>
</svg>
</body></html>
